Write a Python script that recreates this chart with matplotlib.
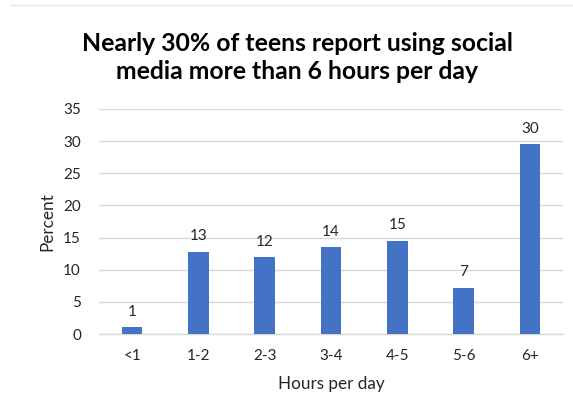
import matplotlib
matplotlib.use("Agg")
import matplotlib.pyplot as plt
from matplotlib.lines import Line2D

categories = ["<1", "1-2", "2-3", "3-4", "4-5", "5-6", "6+"]
values = [1.1, 12.8, 12.0, 13.5, 14.5, 7.2, 29.5]
labels = ["1", "13", "12", "14", "15", "7", "30"]
yticks = [0, 5, 10, 15, 20, 25, 30, 35]

plt.rcParams['font.family'] = ['Lato', 'DejaVu Sans']

fig = plt.figure(figsize=(5.73, 4.16), dpi=100)
ax = fig.add_axes([0.1728, 0.197, 0.8097, 0.541])

x = list(range(len(categories)))
ax.bar(x, values, width=0.31, color="#4472C4", zorder=3)
for xi, v, lab in zip(x, values, labels):
    ax.annotate(lab, (xi, v), xytext=(0, 6), textcoords="offset points",
                ha="center", va="bottom", fontsize=11, color="#262626")

ax.set_xlim(-0.5, len(categories) - 0.5)
ax.set_ylim(0, 35)
ax.set_yticks(yticks)
ax.set_xticks(x)
ax.set_xticklabels(categories)
ax.tick_params(axis="both", length=0, labelsize=11, colors="#262626")
ax.tick_params(axis="x", pad=11)
ax.tick_params(axis="y", pad=13)
ax.yaxis.grid(True, color="#D9D9D9", linewidth=1, zorder=0)
for s in ["top", "right", "left"]:
    ax.spines[s].set_visible(False)
ax.spines["bottom"].set_color("#D9D9D9")
ax.spines["bottom"].set_linewidth(1)

ax.set_ylabel("Percent", fontsize=12.3, color="#262626", labelpad=6)
ax.set_xlabel("Hours per day", fontsize=12.3, color="#262626", labelpad=9)

fig.text(0.519, 0.862, "Nearly 30% of teens report using social\nmedia more than 6 hours per day",
         ha="center", va="center", fontsize=17.8, fontweight="bold",
         linespacing=1.3, color="black")

fig.add_artist(Line2D([0.02, 1.0], [0.988, 0.988], color="#E6E6E6", linewidth=1,
                      transform=fig.transFigure))

fig.savefig("out.png", dpi=100)
